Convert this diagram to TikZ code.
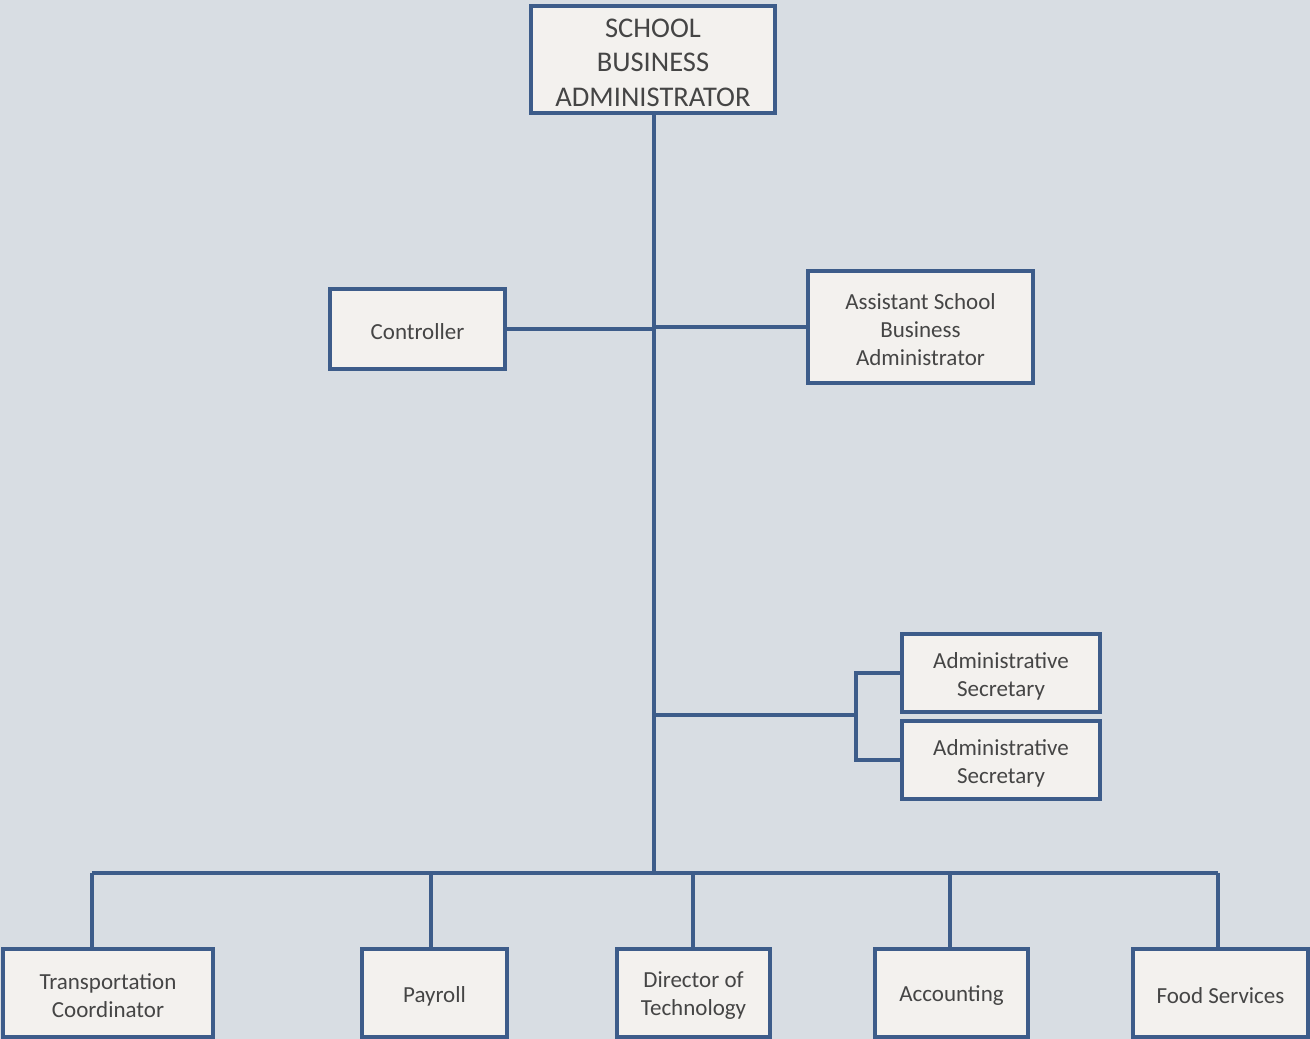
\documentclass[tikz,border=0pt]{standalone}
\usepackage{fontspec}
\setmainfont{Carlito}
\begin{document}
\begin{tikzpicture}[x=1pt,y=-1pt,
  every node/.style={inner sep=0pt, outer sep=0pt},
  boxtext/.style={align=center, text=inktext, font=\fontsize{23}{28}\selectfont, yshift=-3pt},
  bigtext/.style={boxtext, font=\fontsize{28.5}{34.5}\selectfont},
  orgbox/.style={draw=linkblue, fill=boxfill, line width=3.6pt},
  link/.style={draw=linkblue, line width=3.6pt}]
\definecolor{linkblue}{HTML}{3D5C8A}
\definecolor{boxfill}{HTML}{F3F1EE}
\definecolor{inktext}{HTML}{454545}
\definecolor{paper}{HTML}{D8DDE3}

% background sheet
\fill[paper] (0,0) rectangle (1310,1039);
\useasboundingbox (0,0) rectangle (1310,1039);

% boxes, each with its caption centred inside
\node[orgbox, minimum width=244pt, minimum height=107pt,
  label={[bigtext]center:SCHOOL\\BUSINESS\\ADMINISTRATOR}] (sba) at (653,59.5) {};
\node[orgbox, minimum width=175pt, minimum height=80pt,
  label={[boxtext]center:Controller}] (ctrl) at (417.5,329) {};
\node[orgbox, minimum width=225pt, minimum height=112pt,
  label={[boxtext]center:Assistant School\\Business\\Administrator}] (asba) at (920.5,327) {};
\node[orgbox, minimum width=198pt, minimum height=78pt,
  label={[boxtext]center:Administrative\\Secretary}] (sec1) at (1001,673) {};
\node[orgbox, minimum width=198pt, minimum height=78pt,
  label={[boxtext]center:Administrative\\Secretary}] (sec2) at (1001,760) {};

\node[orgbox, minimum width=210pt, minimum height=88pt,
  label={[boxtext]center:Transportation\\Coordinator}] (trans) at (108,993) {};
\node[orgbox, minimum width=145pt, minimum height=88pt,
  label={[boxtext]center:Payroll}] (pay) at (434.5,993) {};
\node[orgbox, minimum width=153pt, minimum height=88pt,
  label={[boxtext]center:Director of\\Technology}] (tech) at (693.5,993) {};
\node[orgbox, minimum width=153pt, minimum height=88pt,
  label={[boxtext]center:Accounting}] (acct) at (951.5,993) {};
\node[orgbox, minimum width=175pt, minimum height=88pt,
  label={[boxtext]center:Food Services}] (food) at (1220.5,993) {};

% junction points
\coordinate (bus) at (654,873);
\coordinate (mid) at (654,327);
\coordinate (secj) at (654,715);
\coordinate (brk) at (856,715);

% trunk and side branches
\draw[link] (sba.south -| bus) -- (bus);
\draw[link] (ctrl.east) -- (ctrl.east -| mid);
\draw[link] (mid) -- (asba.west);
\draw[link] (secj) -- (brk);
\draw[link] (sec1.west) -- (sec1.west -| brk) -- (sec2.west -| brk) -- (sec2.west);

% bottom bus and drops
\draw[link] (92,873) -- (1218,873);
\draw[link] (92,873) -- (trans.north -| 92,0);
\draw[link] (431,873) -- (pay.north -| 431,0);
\draw[link] (693,873) -- (tech.north -| 693,0);
\draw[link] (950,873) -- (acct.north -| 950,0);
\draw[link] (1218,873) -- (food.north -| 1218,0);
\end{tikzpicture}
\end{document}
